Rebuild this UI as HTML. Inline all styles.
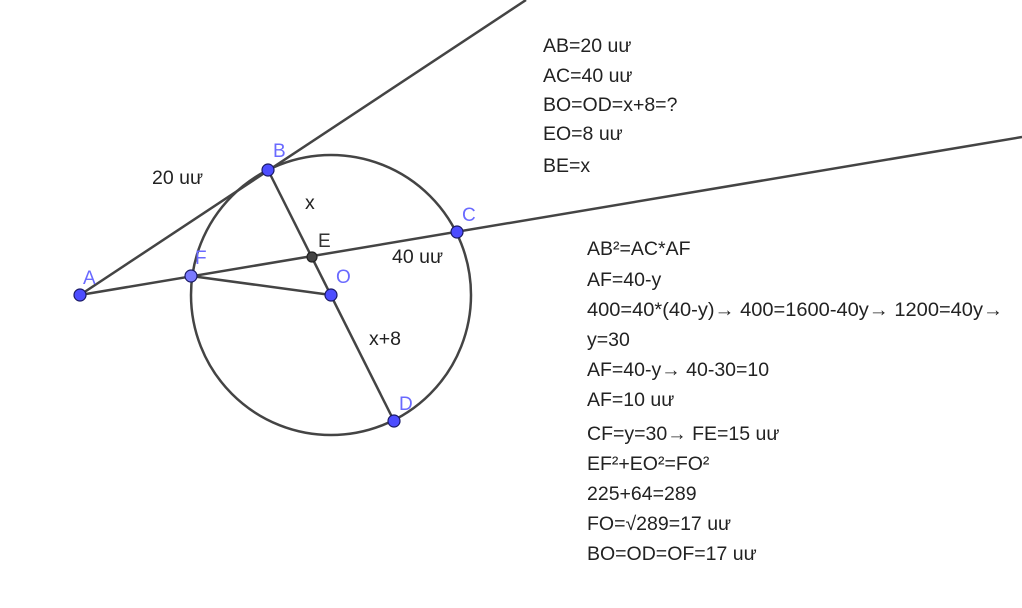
<!DOCTYPE html>
<html><head><meta charset="utf-8"><style>
html,body{margin:0;padding:0;background:#fff;}
svg{display:block}
text{font-family:"Liberation Sans",sans-serif;font-size:19.5px;fill:#222;}
.lbl{fill:#6a6aff;font-size:19px;}
</style></head><body>
<svg width="1022" height="608" viewBox="0 0 1022 608" xmlns="http://www.w3.org/2000/svg">
<g stroke="#444" stroke-width="2.5" fill="none">
<circle cx="331" cy="295" r="140"/>
<line x1="80" y1="295" x2="526" y2="0"/>
<line x1="80" y1="295" x2="1022" y2="137"/>
<line x1="268" y1="170" x2="394" y2="421"/>
<line x1="191" y1="276" x2="331" y2="295"/>
</g>
<g stroke="#1a1a66" stroke-width="1.2" fill="#4d4dff">
<circle cx="80" cy="295" r="6"/>
<circle cx="268" cy="170" r="6"/>
<circle cx="457" cy="232" r="6"/>
<circle cx="394" cy="421" r="6"/>
<circle cx="331" cy="295" r="6"/>
<circle cx="191" cy="276" r="6" fill="#7a7aff"/>
<circle cx="312" cy="257" r="5" fill="#444" stroke="#222"/>
</g>
<text class="lbl" x="83" y="284">A</text>
<text class="lbl" x="273" y="157">B</text>
<text class="lbl" x="462" y="221">C</text>
<text class="lbl" x="399" y="410">D</text>
<text x="318" y="247" style="fill:#333;font-size:19px">E</text>
<text class="lbl" x="195" y="264">F</text>
<text class="lbl" x="336" y="283">O</text>
<text x="152" y="184">20 uư</text>
<text x="305" y="209">x</text>
<text x="392" y="263">40 uư</text>
<text x="369" y="345">x+8</text>
<text x="543" y="52">AB=20 uư</text>
<text x="543" y="82">AC=40 uư</text>
<text x="543" y="111">BO=OD=x+8=?</text>
<text x="543" y="140">EO=8 uư</text>
<text x="543" y="172">BE=x</text>
<text x="587" y="255">AB²=AC*AF</text>
<text x="587" y="286">AF=40-y</text>
<text x="587" y="316" textLength="416" lengthAdjust="spacingAndGlyphs">400=40*(40-y)→ 400=1600-40y→ 1200=40y→</text>
<text x="587" y="346">y=30</text>
<text x="587" y="376">AF=40-y→ 40-30=10</text>
<text x="587" y="406">AF=10 uư</text>
<text x="587" y="440">CF=y=30→ FE=15 uư</text>
<text x="587" y="470">EF²+EO²=FO²</text>
<text x="587" y="500">225+64=289</text>
<text x="587" y="530">FO=√289=17 uư</text>
<text x="587" y="560">BO=OD=OF=17 uư</text>
</svg>
</body></html>
